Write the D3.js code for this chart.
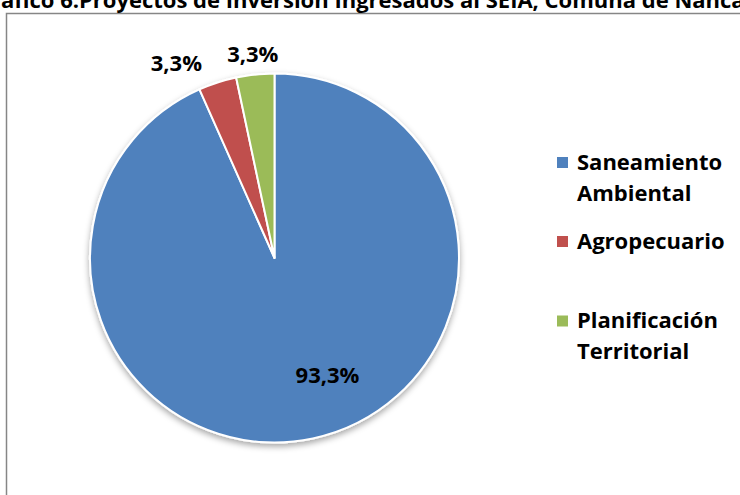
<!DOCTYPE html>
<html><head><meta charset="utf-8">
<script src="https://cdn.jsdelivr.net/npm/d3@7"></script>
<style>html,body{margin:0;padding:0;background:#fff;overflow:hidden}</style>
</head><body>
<svg id="c" width="740" height="495"></svg>
<script>
const titleText = "Gráfico 6.Proyectos de Inversión Ingresados al SEIA, Comuna de Nancagua";
const categories = ["Saneamiento Ambiental", "Agropecuario", "Planificación Territorial"];
const legendLines = [["Saneamiento", "Ambiental"], ["Agropecuario"], ["Planificación", "Territorial"]];
const values = [28, 1, 1];
const labels = ["93,3%", "3,3%", "3,3%"];
const colors = ["#4F81BD", "#C0504D", "#9BBB59"];

const FONT = "'Open Sans', Lato, sans-serif";
const FS = 22;
const svg = d3.select("#c");

const defs = svg.append("defs");
const f = defs.append("filter").attr("id","sh").attr("x","-20%").attr("y","-20%").attr("width","140%").attr("height","140%");
f.append("feDropShadow").attr("dx",0).attr("dy",3).attr("stdDeviation",3).attr("flood-color","#000").attr("flood-opacity",0.35);

// frame
svg.append("rect").attr("x",6.5).attr("y",13.5).attr("width",800).attr("height",600)
  .attr("fill","#fff").attr("stroke","#868686").attr("stroke-width",1.5);

// title (clipped by the window, as in the reference)
const t = svg.append("text").attr("y",8).attr("font-family",FONT).attr("font-weight","bold")
  .attr("font-size",FS).attr("fill","#000").text(titleText);
const tmp = svg.append("text").attr("font-family",FONT).attr("font-weight","bold").attr("font-size",FS).text("Gr");
const pre = tmp.node().getComputedTextLength(); tmp.remove();
t.attr("x", -pre + 1);

const cx = 274.5, cy = 258, r = 184.5;
const pie = d3.pie().sort(null).value(d => d)(values);
const arc = d3.arc().innerRadius(0).outerRadius(r);
const g = svg.append("g").attr("transform",`translate(${cx},${cy})`);
const gp = g.append("g").attr("filter","url(#sh)");
gp.selectAll("path").data(pie).join("path")
  .attr("d", arc).attr("fill",(d,i)=>colors[i])
  .attr("stroke","#fff").attr("stroke-width",2).attr("stroke-linejoin","round");

// labels
const labelArc = [d3.arc().innerRadius(0).outerRadius(0), d3.arc().innerRadius(214).outerRadius(214), d3.arc().innerRadius(208).outerRadius(208)];
const labelShift = [[53, 116], [-32, 8], [0, 2]];
pie.forEach((d,i) => {
  let [x,y] = labelArc[i].centroid(d);
  if (i === 0) { x = 0; y = 0; }
  g.append("text").attr("x", x + labelShift[i][0]).attr("y", y + labelShift[i][1])
    .attr("text-anchor","middle").attr("dominant-baseline","central")
    .attr("font-family",FONT).attr("font-weight","bold").attr("font-size",FS).attr("fill","#000")
    .text(labels[i]);
});

// legend
const legY = [162.5, 241.5, 321];
const lg = svg.append("g");
categories.forEach((c,i) => {
  lg.append("rect").attr("x",557).attr("y",legY[i]-5.5).attr("width",11).attr("height",11).attr("fill",colors[i]);
  legendLines[i].forEach((ln,j) => {
    lg.append("text").attr("x",577).attr("y",legY[i]+7 + j*31)
      .attr("font-family",FONT).attr("font-weight","bold").attr("font-size",FS).attr("fill","#000").text(ln);
  });
});
</script>
</body></html>
